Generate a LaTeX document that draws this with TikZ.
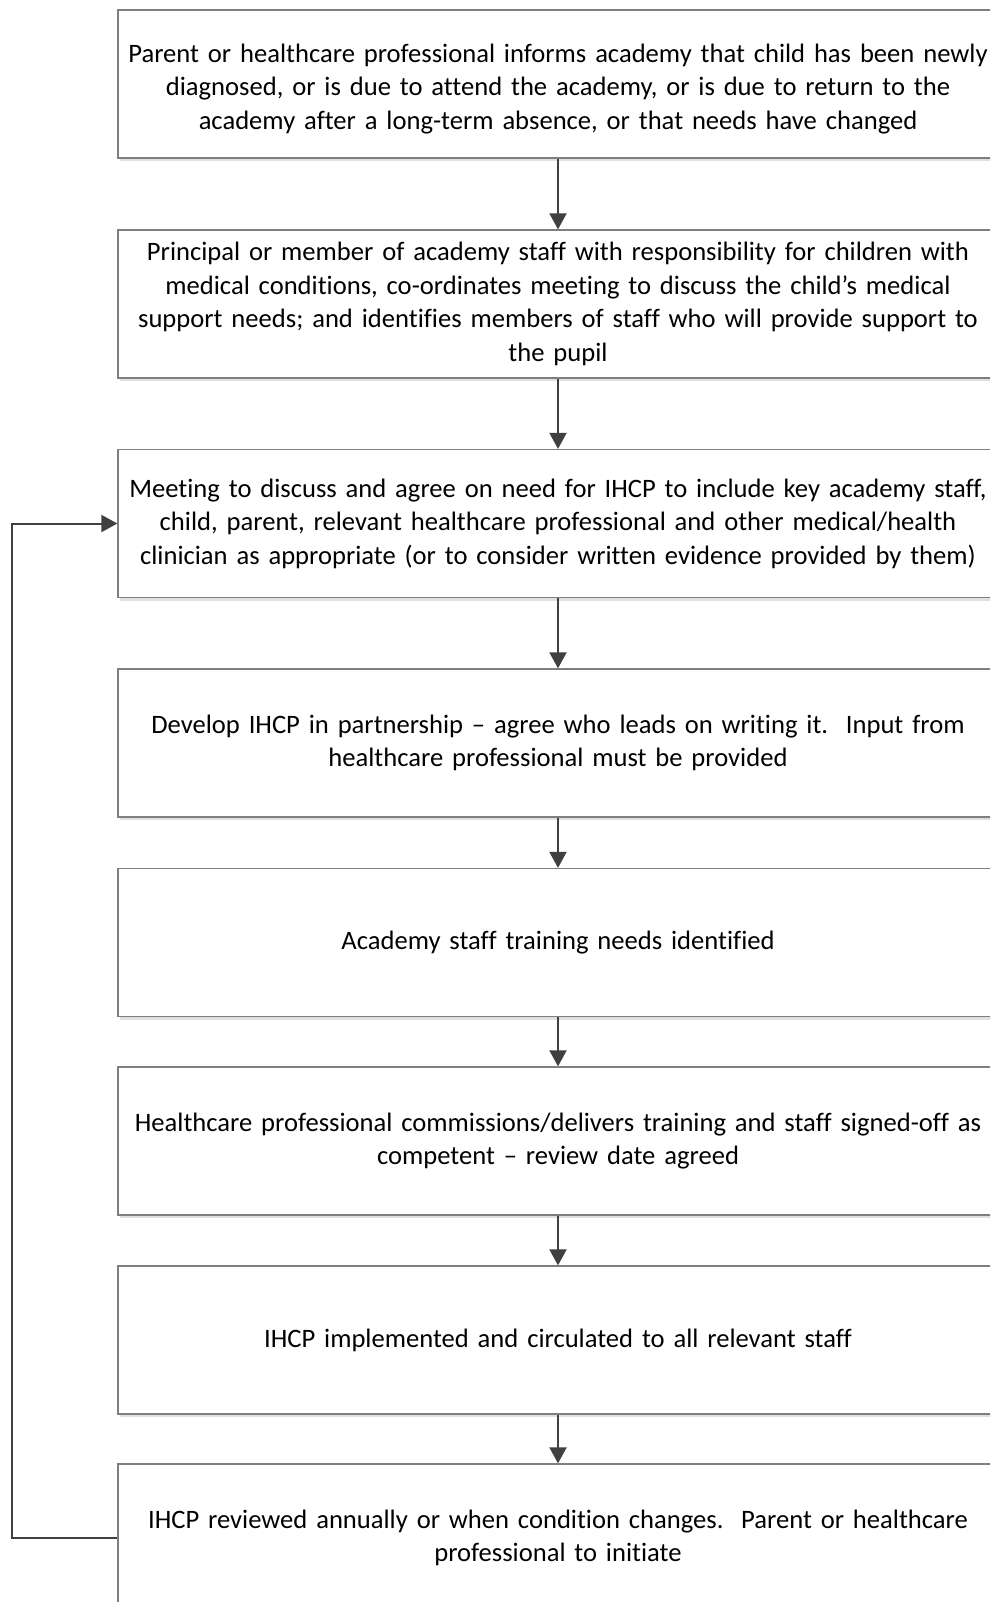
\documentclass[tikz,border=0pt]{standalone}
\usepackage{fontspec}
\setmainfont[Ligatures={NoCommon},WordSpace=0.8]{Carlito}
\usetikzlibrary{arrows.meta}
\definecolor{boxline}{HTML}{7F7F7F}
\definecolor{arrowc}{HTML}{404040}
\definecolor{shadowc}{HTML}{E0E0E0}
\begin{document}
\begin{tikzpicture}[x=1pt,y=-1pt,
  stepbox/.style={draw=boxline,line width=1.3pt,fill=white,minimum width=880pt,minimum height=148pt,
    text width=880pt,align=center,inner sep=0pt,font=\fontsize{26.6}{33.5}\selectfont},
  flow/.style={draw=arrowc,line width=2pt,-{Triangle[length=16pt,width=17pt]}}]
\useasboundingbox (0,0) rectangle (990,1602);
\clip (0,0) rectangle (990,1602);
\fill[white] (0,0) rectangle (990,1602);
\foreach \y in {84,304,523.5,743,942.5,1141,1340,1538}{
  \fill[shadowc] (120,\y+74) rectangle (1000,\y+77);
}
\node[stepbox] (b1) at (558,84) {\rule{0pt}{0pt}\\[-5.5pt]Parent or healthcare professional informs academy that child has been newly\\ diagnosed, or is due to attend the academy, or is due to return to the\\ academy after a long-term absence, or that needs have changed};
\node[stepbox] (b2) at (558,304) {Principal or member of academy staff with responsibility for children with\\ medical conditions, co-ordinates meeting to discuss the child’s medical\\ support needs; and identifies members of staff who will provide support to\\ the pupil};
\node[stepbox] (b3) at (558,523.5) {Meeting to discuss and agree on need for IHCP to include key academy staff,\\ child, parent, relevant healthcare professional and other medical/health\\ clinician as appropriate (or to consider written evidence provided by them)};
\node[stepbox] (b4) at (558,743) {Develop IHCP in partnership – agree who leads on writing it.\ \ Input from\\ healthcare professional must be provided};
\node[stepbox] (b5) at (558,942.5) {Academy staff training needs identified};
\node[stepbox] (b6) at (558,1141) {Healthcare professional commissions/delivers training and staff signed-off as\\ competent – review date agreed};
\node[stepbox] (b7) at (558,1340) {IHCP implemented and circulated to all relevant staff};
\node[stepbox] (b8) at (558,1538) {IHCP reviewed annually or when condition changes.\ \ Parent or healthcare\\ professional to initiate};
\draw[flow] (b1) -- (b2);
\draw[flow] (b2) -- (b3);
\draw[flow] (b3) -- (b4);
\draw[flow] (b4) -- (b5);
\draw[flow] (b5) -- (b6);
\draw[flow] (b6) -- (b7);
\draw[flow] (b7) -- (b8);
\coordinate (lp) at (12,1538);
\draw[flow] (b8.west) -- (lp) |- (b3.west);
\end{tikzpicture}
\end{document}
